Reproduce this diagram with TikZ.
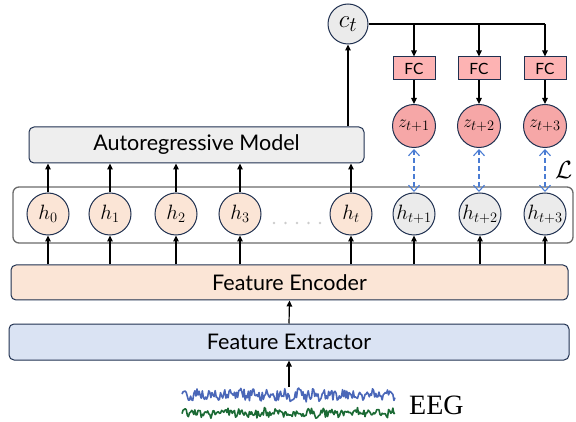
\documentclass[tikz,border=0pt]{standalone}
\usepackage{fontspec}
\usetikzlibrary{arrows.meta}
\newfontfamily\labelfont{Lato}
\newfontfamily\eegfont{Liberation Serif}
\definecolor{navy}{HTML}{1F3050}
\definecolor{arfill}{HTML}{EEEEEE}
\definecolor{grayfill}{HTML}{EBEBEB}
\definecolor{peach}{HTML}{FBE5D6}
\definecolor{bluefill}{HTML}{DAE3F3}
\definecolor{fcfill}{HTML}{FDB3B3}
\definecolor{zfill}{HTML}{F6A7A7}
\definecolor{dashblue}{HTML}{4A7CD3}
\definecolor{eegblue}{HTML}{4A67B8}
\definecolor{eeggreen}{HTML}{1B6A34}
\definecolor{outergray}{HTML}{6A6A6A}
\begin{document}
\begin{tikzpicture}[x=1pt,y=-1pt,
  conn/.style={line width=1.2pt,-{Triangle[length=6pt,width=5.5pt]}},
  plain/.style={line width=1.2pt},
  bd/.style={draw=navy,line width=1pt},
  bigbox/.style={bd,rounded corners=5pt,inner sep=0pt},
  hcirc/.style={circle,bd,minimum size=42pt,inner sep=0pt,font=\fontsize{21}{21}\selectfont},
  hpast/.style={hcirc,fill=peach},
  hfut/.style={hcirc,fill=grayfill},
  fcbox/.style={bd,fill=fcfill,minimum width=42pt,minimum height=23pt,inner sep=0pt,font=\labelfont\fontsize{15.5}{15.5}\selectfont},
  zcirc/.style={circle,bd,fill=zfill,minimum size=43pt,inner sep=0pt,font=\fontsize{19}{19}\selectfont},
  dasharrow/.style={dashblue,line width=1.1pt,dash pattern=on 5pt off 3pt,{Straight Barb[length=6pt,width=11pt]}-{Straight Barb[length=6pt,width=11pt]}},
  lbl/.style={font=\labelfont\fontsize{21.5}{21.5}\selectfont}
]
\useasboundingbox (0,0) rectangle (576,422);

% outer gray box
\draw[outergray,line width=1.3pt,rounded corners=6pt] (13,187) rectangle (573,243);

% big boxes
\node[bigbox,fill=arfill,minimum width=335pt,minimum height=36pt,lbl] (ar) at (196.5,145) {Autoregressive Model};
\node[bigbox,fill=peach,minimum width=557pt,minimum height=35pt,lbl] (fe) at (289.5,282.5) {Feature Encoder};
\node[bigbox,fill=bluefill,minimum width=560pt,minimum height=36pt,lbl] (fx) at (289,342) {Feature Extractor};

% h nodes
\node[hpast] (h0) at (48,214) {$h_0$};
\node[hpast] (h1) at (110,214) {$h_1$};
\node[hpast] (h2) at (176,214) {$h_2$};
\node[hpast] (h3) at (240,214) {$h_3$};
\node[hpast] (ht) at (351,214) {$h_t$};
\node[hfut] (hf1) at (414,214) {$h_{t+1}$};
\node[hfut] (hf2) at (480,214) {$h_{t+2}$};
\node[hfut] (hf3) at (545,214) {$h_{t+3}$};

% dots
\foreach \dx in {274,285.5,297,308.5,320}
  \fill[gray!40] (\dx,223) circle (1.4pt);

% c_t
\node[circle,bd,fill=grayfill,minimum size=40pt,inner sep=0pt,font=\fontsize{32}{32}\selectfont] (ct) at (348,24) {$c_t$};

% FC and z
\node[fcbox] (fc1) at (414,68.5) {FC};
\node[fcbox] (fc2) at (479,68.5) {FC};
\node[fcbox] (fc3) at (545,68.5) {FC};
\node[zcirc] (z1) at (414,126) {$z_{t+1}$};
\node[zcirc] (z2) at (479,126) {$z_{t+2}$};
\node[zcirc] (z3) at (545,126) {$z_{t+3}$};

% loss
\node[anchor=west,inner sep=0pt,font=\fontsize{30}{30}\selectfont] (loss) at (555,170) {$\mathcal{L}$};

% connectors: c_t to FC
\draw[plain] (ct.east) -- (fc3.north |- ct.east);
\foreach \f in {fc1,fc2,fc3}
  \draw[conn] (\f.north |- ct.east) -- (\f.north);
\foreach \f/\z in {fc1/z1,fc2/z2,fc3/z3}
  \draw[conn] (\f.south) -- (\z.north);
\foreach \z/\h in {z1/hf1,z2/hf2,z3/hf3}
  \draw[dasharrow,shorten <=1pt,shorten >=0.5pt] (\z.south) -- (\z.south |- \h.north);

% AR to c_t
\draw[conn] (ct.south |- ar.north) -- (ct.south);

% h to AR
\foreach \h in {h0,h1,h2,h3,ht}
  \draw[conn] (\h.north) -- (\h.north |- ar.south);

% FE to h
\foreach \h in {h0,h1,h2,h3,ht,hf1,hf2,hf3}
  \draw[conn] (\h.south |- fe.north) -- (\h.south);

% FX to FE
\draw[conn] (fx.north) -- (fe.south);

% EEG
\coordinate (eegtop) at (289,387);
\draw[conn] (eegtop) -- (fx.south);
\pgfmathsetseed{11}
\draw[eegblue,line width=1.6pt,line join=round] plot[domain=182:395,samples=200] (\x,{395+5.5*rand+1.5*sin(\x*25)});
\draw[eeggreen,line width=1.6pt,line join=round] plot[domain=182:395,samples=200] (\x,{413+4*rand+1.5*sin(\x*31)});
\node[anchor=west,inner sep=0pt,font=\eegfont\fontsize{28}{28}\selectfont] (eeg) at (409,405) {EEG};
\end{tikzpicture}
\end{document}
